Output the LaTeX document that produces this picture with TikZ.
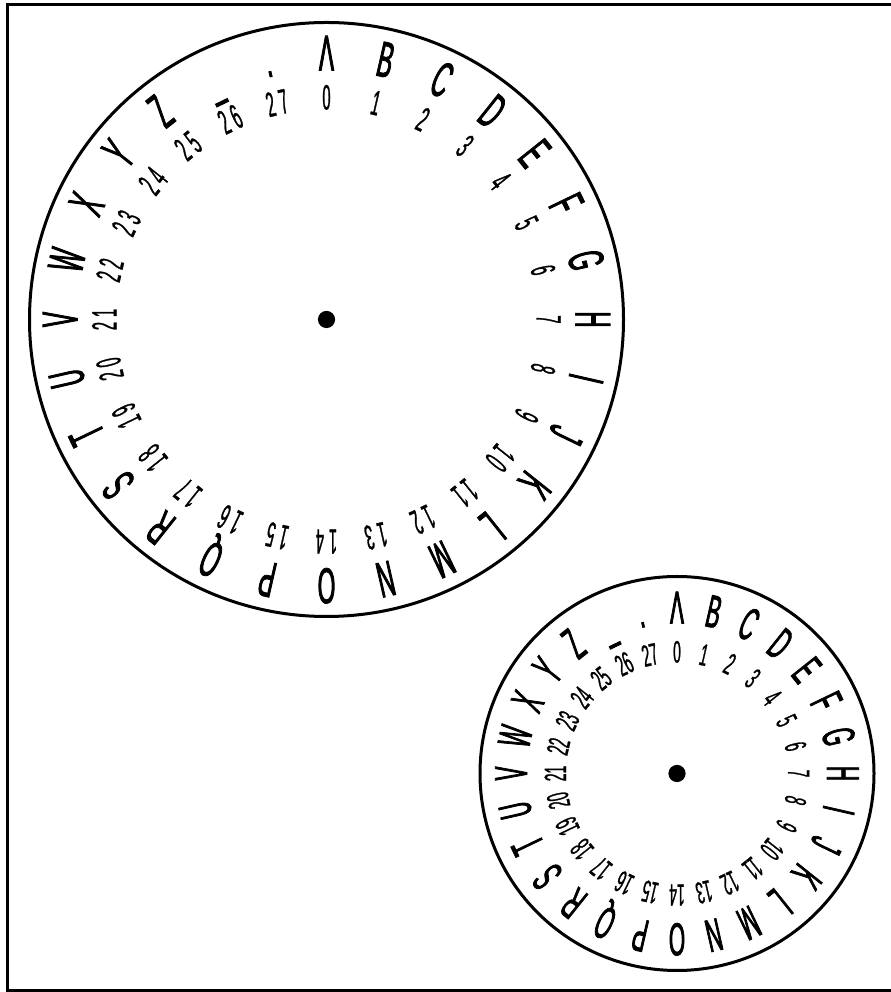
\documentclass[tikz,border=0pt]{standalone}
\usepackage{fontspec}
\newfontfamily\dialfont[FakeStretch=0.45,FakeBold=1.6]{Liberation Sans}
\newfontfamily\dialnumfont[FakeStretch=0.42,FakeBold=0.8,LetterSpace=14]{Liberation Sans}
\newfontfamily\smallnumfont[FakeStretch=0.45,FakeBold=0.8]{Liberation Sans}
\usetikzlibrary{calc}

\begin{document}
\begin{tikzpicture}[x=0.025cm, y=0.025cm,
  frame/.style={draw=black, line width=0.075cm},
  dial/.style={draw=black, line width=0.075cm},
  hub/.style={circle, fill=black, inner sep=0pt, minimum size=0.43cm},
  bigletter/.style={anchor=base, inner sep=0pt, font=\dialfont\fontsize{35.8}{36}\selectfont},
  bignum/.style={anchor=base, inner sep=0pt, font=\dialnumfont\fontsize{25}{25}\selectfont},
  smallletter/.style={anchor=base, inner sep=0pt, font=\dialfont\fontsize{32.8}{33}\selectfont},
  smallnum/.style={anchor=base, inner sep=0pt, font=\smallnumfont\fontsize{21.9}{22}\selectfont},
]
  \useasboundingbox (0,0) rectangle (891,992);
  \draw[frame] (7.5,1.2) rectangle (920,987.5);

  % large wheel
  \coordinate (bigC) at (326.5,672.5);
  \draw[dial] (bigC) circle (297);
  \node[hub] (bighub) at (bigC) {};
  \foreach \ch [count=\i from 0] in {Λ,B,C,D,E,F,G,H,I,J,K,L,M,N,O,P,Q,R,S,T,U,V,W,X,Y,Z,\_,.} {
    \pgfmathsetmacro\ang{90-\i*360/28}
    \node[bigletter, rotate=\ang-90] (bigL\i) at ([shift={(\ang:249)}]bigC) {\ch};
    \node[bignum, rotate=\ang-90] (bigN\i) at ([shift={(\ang:210)}]bigC) {\i};
  }

  % small wheel
  \coordinate (smallC) at (677,218.5);
  \draw[dial] (smallC) circle (197);
  \node[hub] (smallhub) at (smallC) {};
  \foreach \ch [count=\i from 0] in {Λ,B,C,D,E,F,G,H,I,J,K,L,M,N,O,P,Q,R,S,T,U,V,W,X,Y,Z,\_,.} {
    \pgfmathsetmacro\ang{90-\i*360/28}
    \node[smallletter, rotate=\ang-90] (smallL\i) at ([shift={(\ang:150)}]smallC) {\ch};
    \node[smallnum, rotate=\ang-90] (smallN\i) at ([shift={(\ang:111)}]smallC) {\i};
  }
\end{tikzpicture}
\end{document}
